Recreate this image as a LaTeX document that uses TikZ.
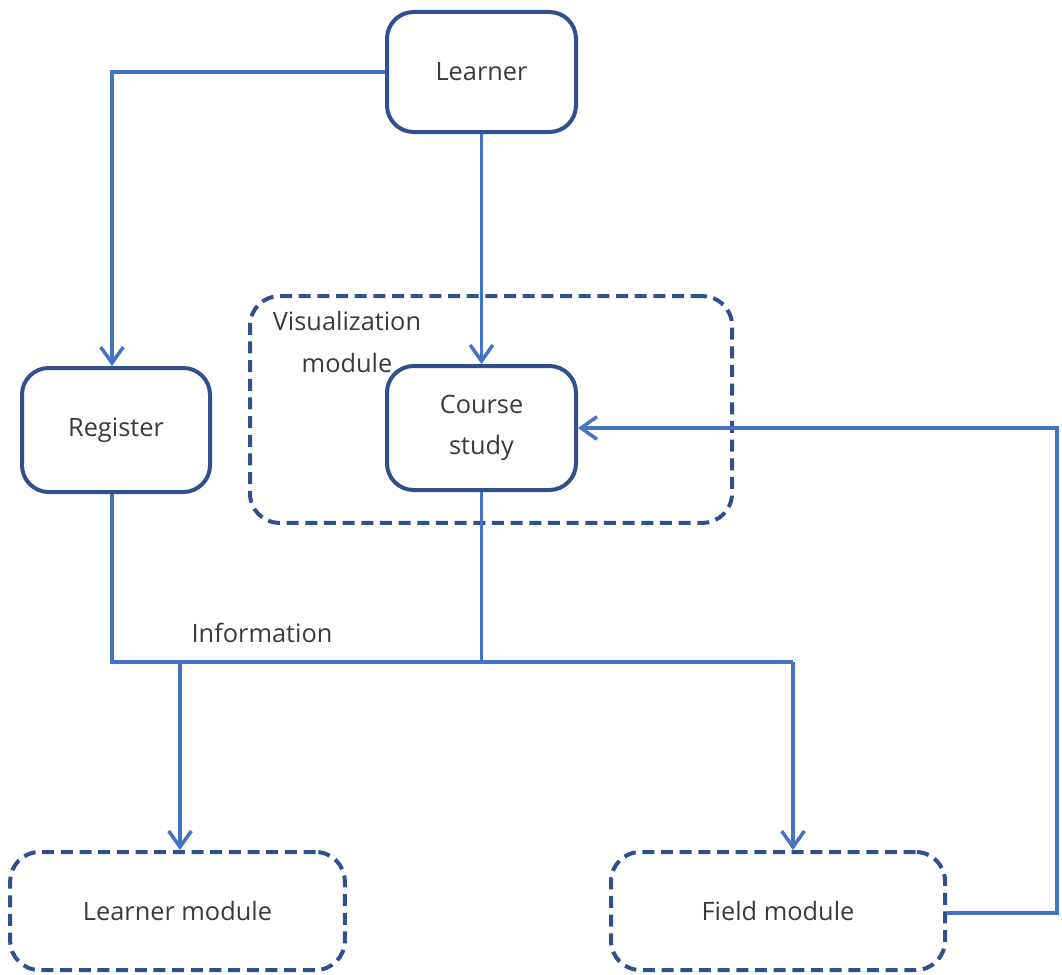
\documentclass[tikz,border=0pt]{standalone}
\usepackage{fontspec}
\setmainfont{Open Sans}
\usetikzlibrary{arrows.meta}
\definecolor{boxline}{HTML}{2F4F8F}
\definecolor{wire}{HTML}{4472C4}
\definecolor{ink}{HTML}{3A3A3A}
\begin{document}
\begin{tikzpicture}[x=0.75pt,y=-0.75pt,
  every node/.style={text=ink,font=\fontsize{19}{31}\selectfont},
  solidbox/.style={draw=boxline,line width=3pt,rounded corners=20pt,
    minimum width=#1*0.75pt,inner sep=0pt,align=center},
  dashbox/.style={draw=boxline,line width=3pt,rounded corners=22pt,
    dash pattern=on 9pt off 5pt,inner sep=0pt,align=center},
  link/.style={draw=wire,line width=2.8pt},
  arr/.style={link,-{Straight Barb[length=12pt,width=17pt,line width=2.6pt]}}]
\useasboundingbox (0,0) rectangle (1062,974);
\begin{scope}
\clip (0,0) rectangle (1062,974);

% outer dashed container
\node[dashbox,minimum width=361.5pt,minimum height=170pt] (vis) at (491,409.5) {};
\node[align=center] (vislabel) at (347,342) {Visualization\\module};

% main boxes
\node[solidbox=189,minimum height=90pt] (learner) at (481.5,72) {Learner};
\node[solidbox=188,minimum height=93pt] (register) at (116,430) {Register};
\node[solidbox=189,minimum height=93pt] (course) at (481.5,428) {Course\\study};
\node[dashbox,minimum width=251pt,minimum height=88.5pt] (lm) at (177.5,911) {Learner module};
\node[dashbox,minimum width=250.5pt,minimum height=88.5pt] (fm) at (778,911) {Field module};

\node (info) at (262,633) {Information};

% bus junctions
\coordinate (busL) at (180,662);
\coordinate (busR) at (793,662);
\coordinate (loop) at (1057,913);
\coordinate (regin) at ([xshift=-3pt]register.north);
\coordinate (regout) at ([xshift=-3pt]register.south);

% connectors
\draw[arr] (learner.west) -| (regin);
\draw[arr] (learner.south) -- (course.north);
\draw[link] (regout) |- (busR);
\draw[link] (course.south) -- (course.south |- busR);
\draw[arr] (busL) -- (busL |- lm.north);
\draw[arr] (busR) -- (busR |- fm.north);
\draw[arr] (fm.east |- loop) -- (loop) |- (course.east);
\end{scope}
\end{tikzpicture}
\end{document}
